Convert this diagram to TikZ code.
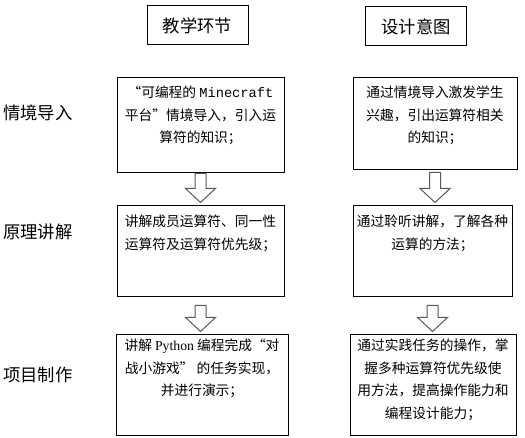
\documentclass[tikz,border=0pt]{standalone}
\usepackage{fontspec}
\setmainfont{Noto Sans CJK SC}
\setmonofont{Liberation Mono}
\newfontfamily\pyfont{Liberation Serif}
\usetikzlibrary{positioning,calc}
\newcommand{\px}{0.75pt}
\tikzset{
  headbox/.style={rectangle,draw=black,line width=\px,minimum width=101*\px,minimum height=39*\px,font=\fontsize{13}{15}\selectfont},
  stagelbl/.style={anchor=west,inner sep=0pt,font=\fontsize{13}{15}\selectfont},
  stepbox/.style={rectangle,draw=black,line width=\px,inner sep=0pt},
  boxtext/.style={align=center,inner sep=0pt,font=\fontsize{10.3}{17}\selectfont},
  hollowarr/.style={draw=black!65,line width=\px,fill=white,line join=miter}
}
% hollow down arrow: upper box, lower box, gap below upper box
\newcommand{\hollowdown}[3]{%
  \coordinate (st) at ($(#1.south)+(0,#3)$);
  \coordinate (tip) at ($(#1.south |- #2.north)+(0,-3)$);
  \coordinate (hb) at ($(tip)+(0,-14)$);
  \draw[hollowarr] ($(st)+(-5.5,0)$) -- ($(hb)+(-5.5,0)$) -- ($(hb)+(-15,0)$)
    -- (tip) -- ($(hb)+(15,0)$) -- ($(hb)+(5.5,0)$) -- ($(st)+(5.5,0)$) -- cycle;
}

\begin{document}
\begin{tikzpicture}[x=0.75pt,y=-0.75pt]
  \useasboundingbox (0,0) rectangle (525,438);

  % column heads
  \node[headbox] (hteach) at (197.5,25.5) {教学环节};
  \node[headbox] (hdesign) at (416,26.5) {设计意图};

  % stage labels
  \node[stagelbl] (lbl1) at (3,113) {情境导入};
  \node[stagelbl] (lbl2) at (3,232) {原理讲解};
  \node[stagelbl] (lbl3) at (3,375) {项目制作};

  % boxes
  \node[stepbox,minimum width=167*\px,minimum height=95*\px] (r1l) at (200.5,125.5) {};
  \node[stepbox,minimum width=164*\px,minimum height=92*\px] (r1r) at (435,124) {};
  \node[stepbox,minimum width=167*\px,minimum height=91*\px] (r2l) at (200.5,251.5) {};
  \node[stepbox,minimum width=159*\px,minimum height=91*\px] (r2r) at (432.5,251.5) {};
  \node[stepbox,minimum width=172*\px,minimum height=100*\px] (r3l) at (202,385) {};
  \node[stepbox,minimum width=166*\px,minimum height=100*\px] (r3r) at (433,385) {};

  % box texts
  \node[boxtext,below=6pt of r1l.north] (t1l) {“可编程的 {\ttfamily Minecraft}\\平台”情境导入，引入运\\算符的知识；};
  \node[boxtext,below=6pt of r1r.north] (t1r) {通过情境导入激发学生\\兴趣，引出运算符相关\\的知识；};
  \node[boxtext,below=7pt of r2l.north] (t2l) {讲解成员运算符、同一性\\运算符及运算符优先级；};
  \node[boxtext,below=7pt of r2r.north] (t2r) {通过聆听讲解，了解各种\\运算的方法；};
  \node[boxtext,below=3pt of r3l.north] (t3l) {讲解 {\pyfont Python} 编程完成“对\\战小游戏” 的任务实现，\\并进行演示；};
  \node[boxtext,below=3pt of r3r.north] (t3r) {通过实践任务的操作，掌\\握多种运算符优先级使\\用方法，提高操作能力和\\编程设计能力；};

  % arrows
  \hollowdown{r1l}{r2l}{0}
  \hollowdown{r1r}{r2r}{2}
  \hollowdown{r2l}{r3l}{8}
  \hollowdown{r2r}{r3r}{8}
\end{tikzpicture}
\end{document}
